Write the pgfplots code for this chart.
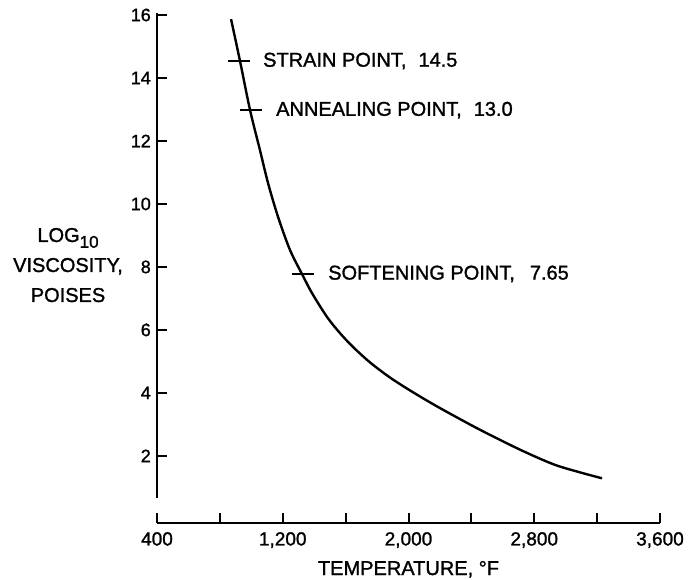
\documentclass[border=0pt]{standalone}
\usepackage{fontspec}
\setmainfont{Liberation Sans}[FakeBold=1.3]
\usepackage{pgfplots}
\pgfplotsset{compat=1.18}
\begin{document}
\begin{tikzpicture}
\begin{axis}[name=ax, scale only axis, width=503pt, height=508pt,
  xmin=400, xmax=3600, ymin=-0.13, ymax=16,
  axis lines=left,
  axis line style={draw=none},
  xtick={400,800,...,3600},
  xticklabels={400,,{1,200},,{2,000},,{2,800},,{3,600}},
  ytick={2,4,...,16},
  tick align=inside,
  major tick length=10pt,
  every tick/.style={black, line width=2pt},
  /pgf/number format/assume math mode=true,
  xticklabel style={font=\fontsize{19}{19}\selectfont, inner sep=0pt, yshift=-9pt},
  yticklabel style={font=\fontsize{18}{18}\selectfont, inner sep=0pt, xshift=-6pt},
  clip=false,
]
\addplot[black, line width=2.4pt, smooth] coordinates {
(871,15.87)(928,14.54)(992,12.98)(1055,11.71)(1106,10.67)(1170,9.59)
(1246,8.54)(1322,7.78)(1386,7.17)(1482,6.41)(1564,5.90)(1647,5.46)
(1755,4.97)(1882,4.49)(2029,4.02)(2200,3.52)(2455,2.83)(2709,2.20)
(2919,1.74)(3075,1.50)(3231,1.29)};
\addplot[black, only marks, mark=-, mark size=11pt, mark options={line width=2pt}] coordinates {
(922,14.54)(995,12.98)(1329,7.78)};
\draw[line width=2.8pt] (axis cs:400,0.67) -- (axis cs:400,16.05);
\draw[line width=2.8pt] (axis cs:400,-0.13) -- (axis cs:3600,-0.13);
\node[anchor=west, inner sep=0pt, font=\fontsize{20}{20}\selectfont] at (axis cs:1074,14.54) {STRAIN POINT,\hspace{12pt}14.5};
\node[anchor=west, inner sep=0pt, font=\fontsize{20}{20}\selectfont] at (axis cs:1157,12.98) {ANNEALING POINT,\hspace{12pt}13.0};
\node[anchor=west, inner sep=0pt, font=\fontsize{20}{20}\selectfont] at (axis cs:1488,7.78) {SOFTENING POINT,\hspace{15pt}7.65};
\node[align=center, font=\fontsize{20}{30}\selectfont] at (axis cs:-166,8.06) {LOG\raisebox{-0.55ex}{\fontsize{17}{17}\selectfont 10}\\VISCOSITY,\\POISES};
\node[font=\fontsize{20}{20}\selectfont] at (axis cs:2000,-1.6) {TEMPERATURE, °F};
\end{axis}
\pgfresetboundingbox
\path[use as bounding box] ([shift={(-157pt,-56pt)}]ax.south west) rectangle ([shift={(541pt,523pt)}]ax.south west);
\end{tikzpicture}
\end{document}
